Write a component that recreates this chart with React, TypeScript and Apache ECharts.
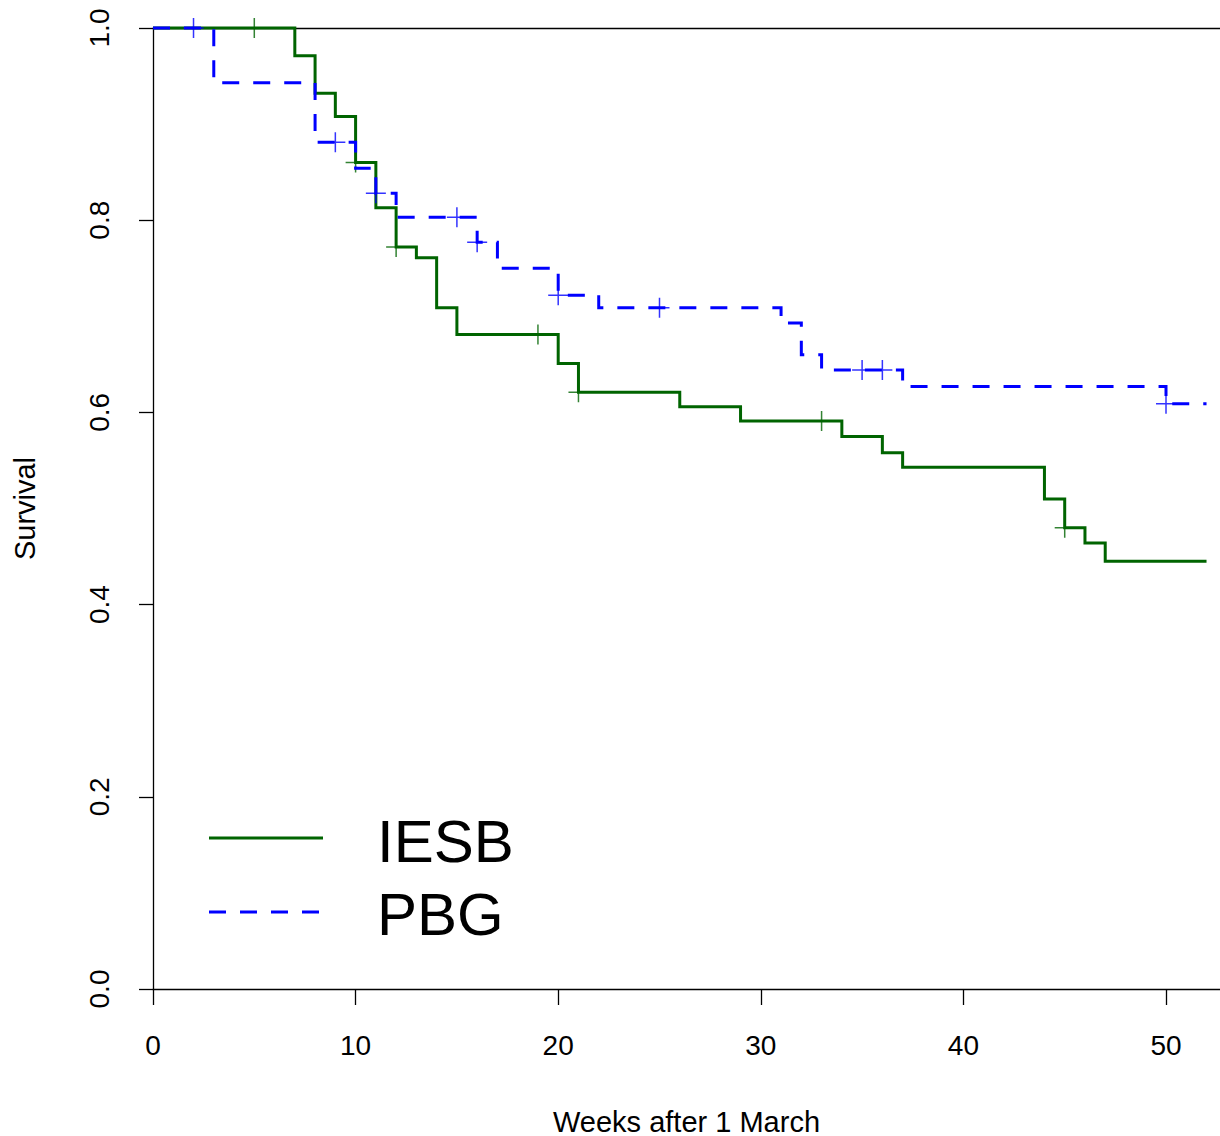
import React, { useEffect, useRef } from "react";
import * as echarts from "echarts";

// Kaplan–Meier step data
const iesbTimes = [0, 7, 8, 9, 10, 11, 12, 13, 14, 15, 20, 21, 26, 29, 34, 36, 37, 44, 45, 46, 47, 52];
const iesbSurv = [1, 0.971, 0.932, 0.908, 0.86, 0.813, 0.772, 0.761, 0.709, 0.681, 0.651, 0.621, 0.606, 0.591, 0.575, 0.558, 0.543, 0.51, 0.48, 0.464, 0.445, 0.445];
const iesbCensorTimes = [5, 10, 12, 19, 21, 33, 45];
const iesbCensorSurv = [1, 0.86, 0.772, 0.681, 0.621, 0.591, 0.48];

const pbgTimes = [0, 3, 8, 10, 11, 12, 16, 17, 20, 22, 31, 32, 33, 37, 50, 52];
const pbgSurv = [1, 0.943, 0.881, 0.854, 0.828, 0.803, 0.777, 0.75, 0.722, 0.709, 0.693, 0.66, 0.644, 0.627, 0.609, 0.609];
const pbgCensorTimes = [2, 9, 11, 15, 16, 20, 25, 35, 36, 50];
const pbgCensorSurv = [1, 0.881, 0.828, 0.803, 0.777, 0.722, 0.709, 0.644, 0.644, 0.609];

const xTicks = [0, 10, 20, 30, 40, 50];
const legendNames = ["IESB", "PBG"];

const GREEN = "#006400";
const BLUE = "#0000ff";
const FONT = "'Liberation Sans', Arial, sans-serif";
const PLUS = "path://M9.25,0h1.5v9.25h9.25v1.5h-9.25v9.25h-1.5v-9.25h-9.25v-1.5h9.25z";

const zip = (a: number[], b: number[]) => a.map((v, i) => [v, b[i]]);

export default function App() {
  const ref = useRef<HTMLDivElement>(null);
  useEffect(() => {
    if (!ref.current) return;
    const chart = echarts.init(ref.current, null, { renderer: "svg" });
    const xMax = 52.665;
    chart.setOption({
      animation: false,
      backgroundColor: "#ffffff",
      textStyle: { fontFamily: FONT },
      grid: { left: 153, right: 0, top: 28, bottom: 147, containLabel: false, outerBoundsMode: "none" },
      xAxis: [
        {
          type: "value",
          min: 0,
          max: xMax,
          interval: 10,
          position: "bottom",
          name: "Weeks after 1 March",
          nameLocation: "middle",
          nameGap: 118,
          nameTextStyle: { fontSize: 29, color: "#000", fontFamily: FONT },
          axisLine: { show: true, lineStyle: { color: "#000", width: 1.3 } },
          axisTick: { show: true, length: 16, customValues: xTicks, lineStyle: { color: "#000", width: 1.3 } },
          axisLabel: {
            customValues: xTicks,
            fontSize: 28,
            color: "#000",
            margin: 42,
            fontFamily: FONT,
          },
          splitLine: { show: false },
        },
        {
          type: "value",
          min: 0,
          max: xMax,
          position: "top",
          axisLine: { show: true, onZero: false, lineStyle: { color: "#000", width: 1.3 } },
          axisTick: { show: false },
          axisLabel: { show: false },
          splitLine: { show: false },
        },
      ],
      yAxis: {
        type: "value",
        min: 0,
        max: 1,
        interval: 0.2,
        name: "Survival",
        nameLocation: "middle",
        nameGap: 114,
        nameTextStyle: { fontSize: 29, color: "#000", fontFamily: FONT },
        axisLine: { show: true, lineStyle: { color: "#000", width: 1.3 } },
        axisTick: { show: true, length: 14, lineStyle: { color: "#000", width: 1.3 } },
        axisLabel: {
          rotate: 90,
          fontSize: 28,
          color: "#000",
          margin: 40,
          fontFamily: FONT,
          formatter: (v: number) => v.toFixed(1),
        },
        splitLine: { show: false },
      },
      series: [
        {
          name: legendNames[0],
          type: "line",
          step: "end",
          data: zip(iesbTimes, iesbSurv),
          showSymbol: false,
          clip: false,
          lineStyle: { color: GREEN, width: 3, cap: "butt", join: "miter" },
          z: 2,
        },
        {
          type: "scatter",
          data: zip(iesbCensorTimes, iesbCensorSurv),
          symbol: PLUS,
          symbolSize: 20,
          itemStyle: { color: GREEN },
          z: 3,
        },
        {
          name: legendNames[1],
          type: "line",
          step: "end",
          data: zip(pbgTimes, pbgSurv),
          showSymbol: false,
          clip: false,
          lineStyle: { color: BLUE, width: 3, type: [17, 14], cap: "butt", join: "miter" },
          z: 4,
        },
        {
          type: "scatter",
          data: zip(pbgCensorTimes, pbgCensorSurv),
          symbol: PLUS,
          symbolSize: 20,
          itemStyle: { color: BLUE },
          z: 5,
        },
      ],
      graphic: [
        {
          type: "line",
          shape: { x1: 209, y1: 838, x2: 323, y2: 838 },
          style: { stroke: GREEN, lineWidth: 3 },
        },
        {
          type: "line",
          shape: { x1: 209, y1: 912, x2: 320, y2: 912 },
          style: { stroke: BLUE, lineWidth: 3, lineDash: [17, 14] },
        },
        {
          type: "text",
          x: 377,
          y: 841,
          style: {
            text: legendNames[0],
            fontSize: 60,
            fontFamily: FONT,
            fill: "#000",
            textVerticalAlign: "middle",
            verticalAlign: "middle",
          },
        },
        {
          type: "text",
          x: 377,
          y: 914,
          style: {
            text: legendNames[1],
            fontSize: 60,
            fontFamily: FONT,
            fill: "#000",
            textVerticalAlign: "middle",
            verticalAlign: "middle",
          },
        },
      ],
    });
    return () => chart.dispose();
  }, []);
  return (
    <div
      ref={ref}
      style={{ position: "absolute", left: 0, top: 0, width: 1220, height: 1136, background: "#fff" }}
    />
  );
}
